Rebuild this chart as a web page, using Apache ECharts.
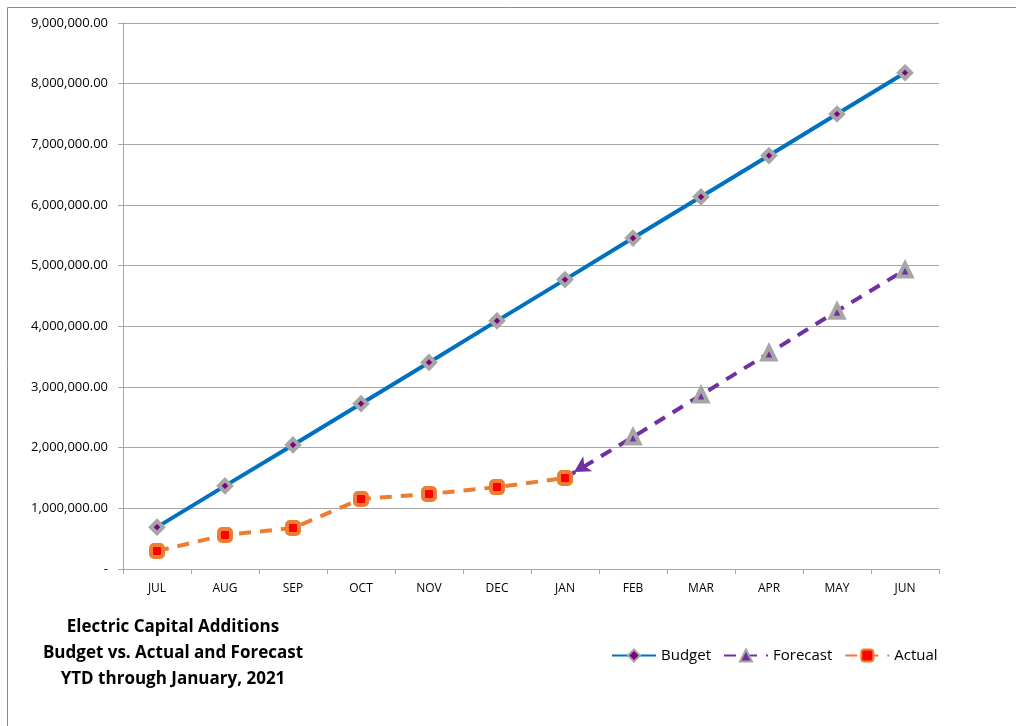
<!DOCTYPE html>
<html>
<head>
<meta charset="utf-8">
<script src="https://cdn.jsdelivr.net/npm/echarts@6/dist/echarts.min.js"></script>
<style>
  html, body { margin: 0; padding: 0; background: #fff; }
  #chart { width: 1016px; height: 726px; }
</style>
</head>
<body>
<div id="chart"></div>
<script>
// Months of the fiscal year
const months = ["JUL", "AUG", "SEP", "OCT", "NOV", "DEC", "JAN", "FEB", "MAR", "APR", "MAY", "JUN"];

// YTD values
const budget = [690000, 1370000, 2045000, 2725000, 3405000, 4090000, 4770000, 5455000, 6135000, 6815000, 7500000, 8180000];
const actual = [297000, 560000, 676000, 1154000, 1236000, 1350000, 1500000, null, null, null, null, null];
const forecast = [null, null, null, null, null, null, 1500000, 2176000, 2868000, 3560000, 4250000, 4930000];

const titleLines = ["Electric Capital Additions", "Budget vs. Actual and Forecast", "YTD through January, 2021"];

const FONT = "'Open Sans', 'DejaVu Sans', sans-serif";

// accounting-style number: 0 shows as "-"
function fmt(v) {
  if (v === 0) return "-";
  return v.toLocaleString("en-US", { minimumFractionDigits: 2, maximumFractionDigits: 2 });
}

const chart = echarts.init(document.getElementById("chart"));

// first forecast point is drawn as an arrow head pointing back at the actual
const forecastData = forecast.map((v, i) => {
  if (v == null) return null;
  if (i === 6) {
    return {
      value: v,
      symbol: "arrow",
      symbolSize: [13, 16],
      symbolRotate: 121,
      symbolOffset: [9, -6],
      itemStyle: { color: "#7030A0", borderWidth: 0 }
    };
  }
  return v;
});

const option = {
  backgroundColor: "#fff",
  animation: false,
  textStyle: { fontFamily: FONT },
  title: {
    text: titleLines.join("\n"),
    left: 168,
    top: 609,
    textAlign: "center",
    textStyle: {
      fontFamily: FONT,
      fontSize: 17,
      fontWeight: "bold",
      lineHeight: 26,
      color: "#000"
    }
  },
  legend: {
    left: 606,
    top: 643,
    itemWidth: 44,
    itemHeight: 15,
    itemGap: 12,
    textStyle: { fontFamily: FONT, fontSize: 15, color: "#000" },
    data: ["Budget", "Forecast", "Actual"]
  },
  grid: { left: 123, right: 77, top: 23, bottom: 157 },
  xAxis: {
    type: "category",
    data: months,
    boundaryGap: true,
    axisLine: { lineStyle: { color: "#A6A6A6", width: 1 } },
    axisTick: { show: true, length: 5, alignWithLabel: false, lineStyle: { color: "#A6A6A6" } },
    axisLabel: { color: "#000", fontSize: 12, margin: 14, fontFamily: FONT }
  },
  yAxis: {
    type: "value",
    min: 0,
    max: 9000000,
    interval: 1000000,
    axisLine: { show: true, lineStyle: { color: "#A6A6A6" } },
    axisTick: { show: true, length: 5, lineStyle: { color: "#A6A6A6" } },
    axisLabel: { color: "#000", fontSize: 13, margin: 15, fontFamily: FONT, formatter: fmt },
    splitLine: { lineStyle: { color: "#A6A6A6", width: 1 } }
  },
  series: [
    {
      name: "Budget",
      type: "line",
      data: budget,
      z: 3,
      lineStyle: { color: "#0070C0", width: 4 },
      symbol: "diamond",
      symbolSize: 12,
      itemStyle: { color: "#800080", borderColor: "#A6A6A6", borderWidth: 4 }
    },
    {
      name: "Forecast",
      type: "line",
      data: forecastData,
      z: 2,
      lineStyle: { color: "#7030A0", width: 4, type: [12, 9] },
      symbol: "triangle",
      symbolSize: 13,
      itemStyle: { color: "#7030A0", borderColor: "#A6A6A6", borderWidth: 4 }
    },
    {
      name: "Actual",
      type: "line",
      data: actual,
      z: 4,
      lineStyle: { color: "#ED7D31", width: 4, type: [12, 9] },
      symbol: "roundRect",
      symbolSize: 12,
      itemStyle: { color: "#FF0000", borderColor: "#ED7D31", borderWidth: 4 }
    }
  ],
  graphic: [
    // outer chart frame (only top and left edges are visible)
    { type: "line", shape: { x1: 7.5, y1: 7.5, x2: 1016, y2: 7.5 }, style: { stroke: "#8C8C8C", lineWidth: 1 } },
    { type: "line", shape: { x1: 7.5, y1: 7.5, x2: 7.5, y2: 726 }, style: { stroke: "#8C8C8C", lineWidth: 1 } }
  ]
};

chart.setOption(option);
</script>
</body>
</html>
